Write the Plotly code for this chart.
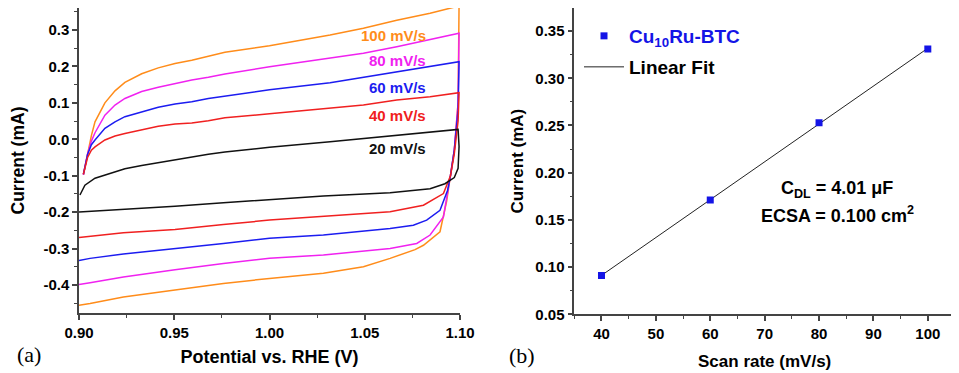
import numpy as np
import plotly.graph_objects as go

# ---------------- Panel (a): cyclic voltammograms ----------------
scan_labels = ["100 mV/s", "80 mV/s", "60 mV/s", "40 mV/s", "20 mV/s"]
cv_colors = ["#FF8C1A", "#F022F0", "#1C1CF0", "#F02020", "#111111"]

# anodic (upper) branches
v_up_100 = [0.9023, 0.9045, 0.9065, 0.9084, 0.9136, 0.9189, 0.9241, 0.9329, 0.9416, 0.9504, 0.9592, 0.9679, 0.9766, 1.0000, 1.0318, 1.0493, 1.0668, 1.0843, 1.0995]
i_up_100 = [-0.098, -0.040, 0.010, 0.048, 0.100, 0.133, 0.156, 0.180, 0.196, 0.208, 0.217, 0.228, 0.239, 0.257, 0.286, 0.305, 0.327, 0.346, 0.366]
v_up_80 = [0.9023, 0.9045, 0.9065, 0.9084, 0.9136, 0.9189, 0.9241, 0.9329, 0.9416, 0.9504, 0.9592, 0.9679, 0.9766, 1.0000, 1.0318, 1.0493, 1.0668, 1.0843, 1.0995]
i_up_80 = [-0.098, -0.040, -0.005, 0.018, 0.066, 0.094, 0.112, 0.131, 0.143, 0.154, 0.163, 0.170, 0.179, 0.199, 0.222, 0.236, 0.254, 0.274, 0.291]
v_up_60 = [0.9023, 0.9045, 0.9065, 0.9084, 0.9136, 0.9189, 0.9241, 0.9329, 0.9416, 0.9504, 0.9592, 0.9679, 0.9766, 1.0000, 1.0318, 1.0493, 1.0668, 1.0843, 1.0995]
i_up_60 = [-0.096, -0.042, -0.015, -0.002, 0.030, 0.048, 0.062, 0.076, 0.088, 0.097, 0.103, 0.112, 0.119, 0.136, 0.155, 0.170, 0.183, 0.199, 0.213]
v_up_40 = [0.9023, 0.9045, 0.9065, 0.9084, 0.9136, 0.9189, 0.9241, 0.9329, 0.9416, 0.9504, 0.9592, 0.9679, 0.9766, 1.0000, 1.0318, 1.0493, 1.0668, 1.0843, 1.0995]
i_up_40 = [-0.096, -0.050, -0.030, -0.021, -0.002, 0.009, 0.016, 0.027, 0.036, 0.042, 0.045, 0.051, 0.059, 0.070, 0.085, 0.094, 0.108, 0.117, 0.128]
v_up_20 = [0.9005, 0.9031, 0.9084, 0.9136, 0.9189, 0.9241, 0.9329, 0.9416, 0.9504, 0.9592, 0.9679, 0.9766, 1.0000, 1.0318, 1.0493, 1.0668, 1.0843, 1.0990]
i_up_20 = [-0.153, -0.126, -0.107, -0.098, -0.089, -0.081, -0.072, -0.064, -0.056, -0.048, -0.041, -0.035, -0.022, -0.007, 0.002, 0.011, 0.018, 0.027]

# cathodic (lower) branches
v_dn_100 = [1.0995, 1.0990, 1.0970, 1.0950, 1.0930, 1.0895, 1.0808, 1.0764, 1.0633, 1.0493, 1.0283, 1.0000, 0.9758, 0.9504, 0.9233, 0.9058, 0.9000]
i_dn_100 = [0.366, 0.100, -0.030, -0.100, -0.170, -0.254, -0.291, -0.303, -0.327, -0.350, -0.368, -0.382, -0.396, -0.414, -0.433, -0.451, -0.456]
v_dn_80 = [1.0995, 1.0990, 1.0970, 1.0950, 1.0935, 1.0913, 1.0843, 1.0773, 1.0633, 1.0283, 1.0000, 0.9758, 0.9504, 0.9233, 0.9058, 0.9000]
i_dn_80 = [0.291, 0.100, -0.030, -0.100, -0.150, -0.213, -0.263, -0.286, -0.300, -0.318, -0.327, -0.341, -0.358, -0.378, -0.394, -0.399]
v_dn_60 = [1.0995, 1.0990, 1.0970, 1.0950, 1.0935, 1.0895, 1.0825, 1.0755, 1.0633, 1.0283, 1.0000, 0.9758, 0.9504, 0.9233, 0.9058, 0.9000]
i_dn_60 = [0.213, 0.080, -0.030, -0.100, -0.140, -0.195, -0.222, -0.236, -0.245, -0.263, -0.272, -0.286, -0.300, -0.315, -0.327, -0.333]
v_dn_40 = [1.0995, 1.0990, 1.0970, 1.0950, 1.0913, 1.0808, 1.0633, 1.0283, 1.0000, 0.9758, 0.9504, 0.9233, 0.9058, 0.9000]
i_dn_40 = [0.128, 0.050, -0.040, -0.100, -0.149, -0.181, -0.199, -0.211, -0.222, -0.234, -0.248, -0.257, -0.266, -0.270]
v_dn_20 = [1.0990, 1.0995, 1.0990, 1.0970, 1.0921, 1.0843, 1.0633, 1.0283, 1.0000, 0.9758, 0.9504, 0.9233, 0.9058, 0.9000]
i_dn_20 = [0.027, -0.020, -0.080, -0.105, -0.122, -0.136, -0.147, -0.156, -0.165, -0.174, -0.184, -0.193, -0.197, -0.200]

# label anchor values (data coords of the right edge / middle of each rate label)
label_v = [1.0832, 1.0832, 1.0832, 1.0832, 1.0832]
label_i = [0.286, 0.2176, 0.1434, 0.0665, -0.024]

a_xticks = [0.90, 0.95, 1.00, 1.05, 1.10]
a_xtext = ["0.90", "0.95", "1.00", "1.05", "1.10"]
a_yticks = [-0.4, -0.3, -0.2, -0.1, 0.0, 0.1, 0.2, 0.3]
a_ytext = ["-0.4", "-0.3", "-0.2", "-0.1", "0.0", "0.1", "0.2", "0.3"]

# ---------------- Panel (b): current vs scan rate ----------------
scan_rate = [40, 60, 80, 100]
current_b = [0.091, 0.171, 0.253, 0.331]
b_xticks = [40, 50, 60, 70, 80, 90, 100]
b_yticks = [0.05, 0.10, 0.15, 0.20, 0.25, 0.30, 0.35]

# The page body adds an 8 px offset, so the figure is 951x365 and screen
# pixel positions are converted to figure fractions with that offset.
OFF = 8
W, H = 951, 365
def px(x):
    return (x - OFF) / W
def py(y):
    return 1 - (y - OFF) / H

FONT = "Liberation Sans, Arial, sans-serif"
bold = dict(family=FONT, size=15, color="black", weight="bold")
AX = "#444444"

fig = go.Figure()

branches = [
    (v_up_100, i_up_100, v_dn_100, i_dn_100),
    (v_up_80, i_up_80, v_dn_80, i_dn_80),
    (v_up_60, i_up_60, v_dn_60, i_dn_60),
    (v_up_40, i_up_40, v_dn_40, i_dn_40),
    (v_up_20, i_up_20, v_dn_20, i_dn_20),
]
for (vu, iu, vd, idn), lab, col in zip(branches, scan_labels, cv_colors):
    fig.add_trace(go.Scatter(x=vu + vd, y=iu + idn, mode="lines",
                             line=dict(color=col, width=1.5),
                             name=lab, showlegend=False,
                             xaxis="x", yaxis="y"))

# Panel b data and linear fit
slope, intercept = np.polyfit(scan_rate, current_b, 1)
fit_x = [scan_rate[0], scan_rate[-1]]
fit_y = [slope * xx + intercept for xx in fit_x]

fig.add_trace(go.Scatter(x=fit_x, y=fit_y, mode="lines",
                         line=dict(color="#222222", width=1),
                         name="Linear Fit", legend="legend2",
                         xaxis="x2", yaxis="y2"))
fig.add_trace(go.Scatter(x=scan_rate, y=current_b, mode="markers",
                         marker=dict(symbol="square", size=7, color="#1414E6"),
                         name="Cu<sub>10</sub>Ru-BTC", legend="legend",
                         xaxis="x2", yaxis="y2"))

axis_common = dict(showline=True, linecolor=AX, linewidth=1.5, ticks="outside",
                   ticklen=5, tickwidth=1.5, tickcolor=AX, showgrid=False,
                   zeroline=False, tickfont=bold, mirror=False, automargin=False)

fig.update_layout(
    width=W, height=H,
    margin=dict(l=0, r=0, t=0, b=0, autoexpand=False),
    paper_bgcolor="white", plot_bgcolor="white",
    xaxis=dict(domain=[px(79), px(460)], range=[0.90, 1.10], anchor="y",
               tickvals=a_xticks, ticktext=a_xtext,
               minor=dict(dtick=0.025, tick0=0.9, ticks="outside", ticklen=3, tickcolor=AX, tickwidth=1.2),
               title=dict(text="<b>Potential vs. RHE (V)</b>", font=dict(family=FONT, size=18, color="black"), standoff=11),
               **axis_common),
    yaxis=dict(domain=[py(313), 1.0], range=[-0.477, 0.3604], anchor="x",
               tickvals=a_yticks, ticktext=a_ytext,
               minor=dict(dtick=0.05, tick0=0, ticks="outside", ticklen=3, tickcolor=AX, tickwidth=1.2),
               title=dict(text="<b>Current (mA)</b>", font=dict(family=FONT, size=17.5, color="black"), standoff=16),
               **axis_common),
    xaxis2=dict(domain=[px(574.3), px(955)], range=[35, 105], anchor="y2",
                tickvals=b_xticks,
                minor=dict(dtick=5, tick0=0, ticks="outside", ticklen=3, tickcolor=AX, tickwidth=1.2),
                title=dict(text="<b>Scan rate (mV/s)</b>", font=dict(family=FONT, size=17, color="black"), standoff=14),
                **axis_common),
    yaxis2=dict(domain=[py(314.3), 1.0], range=[0.05, 0.3744], anchor="x2",
                tickvals=b_yticks, tickformat=".2f",
                minor=dict(dtick=0.025, tick0=0, ticks="outside", ticklen=3, tickcolor=AX, tickwidth=1.2),
                title=dict(text="<b>Current (mA)</b>", font=dict(family=FONT, size=17, color="black"), standoff=7),
                **axis_common),
    legend=dict(x=px(579), y=py(36), xanchor="left", yanchor="middle",
                bgcolor="rgba(0,0,0,0)", itemwidth=40,
                font=dict(family=FONT, size=19, color="#1414E6", weight="bold")),
    legend2=dict(x=px(579), y=py(67), xanchor="left", yanchor="middle",
                 bgcolor="rgba(0,0,0,0)", itemwidth=40,
                 font=dict(family=FONT, size=19, color="black", weight="bold")),
)

annotations = []
for lab, col, lv, li in zip(scan_labels, cv_colors, label_v, label_i):
    annotations.append(dict(x=lv, y=li, xref="x", yref="y", text="<b>" + lab + "</b>",
                            showarrow=False, xanchor="right", yanchor="middle",
                            font=dict(family=FONT, size=15, color=col)))
annotations.append(dict(x=px(837), y=py(190), xref="paper", yref="paper",
                        text="<b>C<sub>DL</sub> = 4.01 \u03bcF</b>", showarrow=False,
                        xanchor="center", yanchor="middle",
                        font=dict(family=FONT, size=18, color="black")))
annotations.append(dict(x=px(837), y=py(214), xref="paper", yref="paper",
                        text="<b>ECSA = 0.100 cm<sup>2</sup></b>", showarrow=False,
                        xanchor="center", yanchor="middle",
                        font=dict(family=FONT, size=18, color="black")))
annotations.append(dict(x=px(29), y=py(354), xref="paper", yref="paper", text="(a)",
                        showarrow=False, xanchor="center", yanchor="middle",
                        font=dict(family="Liberation Serif, Times New Roman, serif", size=22, color="black")))
annotations.append(dict(x=px(522), y=py(355), xref="paper", yref="paper", text="(b)",
                        showarrow=False, xanchor="center", yanchor="middle",
                        font=dict(family="Liberation Serif, Times New Roman, serif", size=22, color="black")))
fig.update_layout(annotations=annotations)

fig.write_html("out.html")
